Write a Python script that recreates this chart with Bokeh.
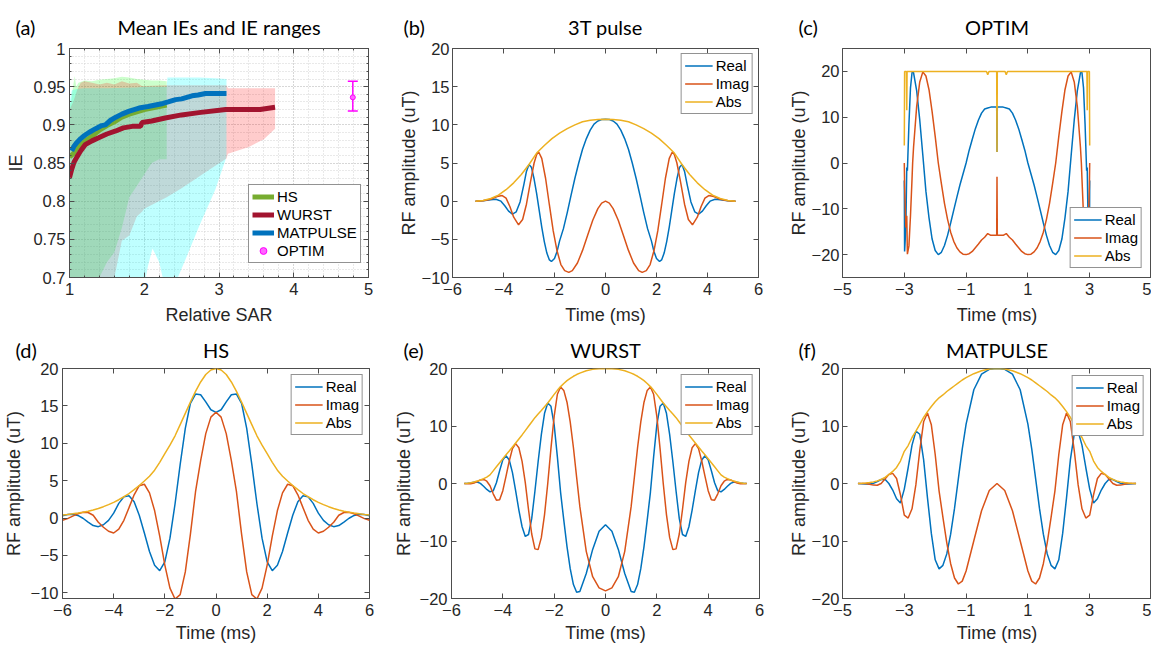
from bokeh.plotting import figure
from bokeh.models import (Range1d, FixedTicker, Legend, LegendItem, Whisker, Title, LinearAxis,
                          TeeHead, ColumnDataSource, CustomJSTickFormatter)
from bokeh.layouts import column, row
from bokeh.embed import file_html
from bokeh.resources import INLINE

# ---------------- (a) Mean IEs and IE ranges ----------------
HS_SAR = [1.0, 1.05, 1.1, 1.2, 1.3, 1.4, 1.5, 1.6, 1.7, 1.8, 1.9, 2.0, 2.1, 2.2, 2.3]
HS_MEAN = [0.858, 0.862, 0.870, 0.878, 0.885, 0.893, 0.899, 0.904, 0.910, 0.914, 0.917, 0.920, 0.922, 0.924, 0.926]
WURST_SAR = [1.0, 1.03, 1.06, 1.1, 1.15, 1.21, 1.3, 1.39, 1.5, 1.62, 1.72, 1.84, 1.95, 1.97, 2.1, 2.28, 2.5, 2.73, 3.09, 3.3, 3.55, 3.75]
WURST_MEAN = [0.831, 0.842, 0.851, 0.858, 0.866, 0.874, 0.879, 0.883, 0.888, 0.892, 0.896, 0.898, 0.898, 0.903, 0.905, 0.909, 0.913, 0.916, 0.920, 0.920, 0.920, 0.923]
MAT_SAR = [1.03, 1.06, 1.1, 1.15, 1.2, 1.26, 1.35, 1.43, 1.48, 1.55, 1.62, 1.7, 1.8, 1.93, 2.05, 2.15, 2.25, 2.32, 2.42, 2.5, 2.64, 2.72, 2.82, 3.1]
MAT_MEAN = [0.866, 0.872, 0.877, 0.882, 0.886, 0.890, 0.895, 0.899, 0.900, 0.906, 0.910, 0.914, 0.918, 0.922, 0.924, 0.926, 0.928, 0.930, 0.933, 0.934, 0.938, 0.939, 0.941, 0.941]

HS_RANGE_SAR = [1.0, 1.02, 1.05, 1.07, 1.09, 1.12, 1.2, 1.3, 1.4, 1.5, 1.6, 1.7, 1.8, 1.9, 2.0, 2.1, 2.2, 2.3]
HS_HI = [0.925, 0.93, 0.952, 0.964, 0.95, 0.955, 0.958, 0.957, 0.959, 0.960, 0.961, 0.963, 0.962, 0.960, 0.959, 0.958, 0.958, 0.957]
HS_LO = [0.6, 0.6, 0.6, 0.6, 0.6, 0.6, 0.6, 0.6, 0.70, 0.72, 0.733, 0.765, 0.805, 0.82, 0.835, 0.85, 0.855, 0.855]
WURST_RANGE_SAR = [1.0, 1.05, 1.1, 1.15, 1.2, 1.3, 1.4, 1.5, 1.6, 1.7, 1.8, 1.9, 1.97, 2.0, 2.3, 2.5, 2.7, 2.9, 3.1, 3.12, 3.4, 3.6, 3.75]
WURST_HI = [0.92, 0.93, 0.945, 0.955, 0.957, 0.955, 0.953, 0.955, 0.953, 0.957, 0.954, 0.955, 0.951, 0.951, 0.952, 0.952, 0.952, 0.952, 0.952, 0.948, 0.948, 0.948, 0.948]
WURST_LO = [0.6, 0.6, 0.6, 0.6, 0.6, 0.6, 0.6, 0.6, 0.70, 0.748, 0.755, 0.78, 0.786, 0.79, 0.805, 0.817, 0.83, 0.843, 0.856, 0.862, 0.871, 0.881, 0.895]
MAT_RANGE_SAR = [1.0, 1.03, 1.05, 1.1, 1.2, 1.5, 1.9, 2.0, 2.05, 2.11, 2.2, 2.27, 2.3, 2.31, 2.45, 2.6, 2.73, 2.95, 3.1]
MAT_HI = [0.93, 0.945, 0.946, 0.947, 0.948, 0.948, 0.949, 0.95, 0.95, 0.95, 0.95, 0.95, 0.95, 0.962, 0.962, 0.962, 0.962, 0.961, 0.96]
MAT_LO = [0.6, 0.6, 0.6, 0.6, 0.6, 0.6, 0.6, 0.69, 0.715, 0.738, 0.72, 0.69, 0.6, 0.6, 0.70, 0.735, 0.766, 0.815, 0.858]

OPTIM_SAR = [4.79]
OPTIM_MEAN = [0.936]
OPTIM_LO = [0.918]
OPTIM_HI = [0.957]

A_XTICKS = [1, 2, 3, 4, 5]
A_YTICKS = [0.7, 0.75, 0.8, 0.85, 0.9, 0.95, 1.0]

# ---------------- (b) 3T pulse ----------------
B_RE_T = [-5.1, -4.8, -4.5, -4.3, -4.1, -3.95, -3.8, -3.65, -3.5, -3.35, -3.2, -3.1, -3.0, -2.9, -2.8, -2.7, -2.6, -2.5, -2.4, -2.3, -2.2, -2.12, -2.0, -1.9, -1.8, -1.65, -1.5, -1.35, -1.2, -1.05, -0.9, -0.75, -0.6, -0.45, -0.3, -0.15, 0.0,
          0.15, 0.3, 0.45, 0.6, 0.75, 0.9, 1.05, 1.2, 1.35, 1.5, 1.65, 1.8, 1.9, 2.0, 2.12, 2.2, 2.3, 2.4, 2.5, 2.6, 2.7, 2.8, 2.9, 3.0, 3.1, 3.2, 3.35, 3.5, 3.65, 3.8, 3.95, 4.1, 4.3, 4.5, 4.8, 5.1]
B_RE = [0, 0.05, 0.2, 0.25, 0.0, -0.6, -1.3, -1.7, -1.4, -0.1, 2.2, 3.9, 4.8, 4.4, 2.9, 1.0, -1.2, -3.4, -5.3, -6.8, -7.7, -7.9, -7.5, -6.6, -5.2, -3.6, -1.5, 0.8, 3.0, 5.0, 6.8, 8.2, 9.3, 10.1, 10.5, 10.7, 10.73,
        10.7, 10.5, 10.1, 9.3, 8.2, 6.8, 5.0, 3.0, 0.8, -1.5, -3.6, -5.2, -6.6, -7.5, -7.9, -7.7, -6.8, -5.3, -3.4, -1.2, 1.0, 2.9, 4.4, 4.8, 3.9, 2.2, -0.1, -1.4, -1.7, -1.3, -0.6, 0.0, 0.25, 0.2, 0.05, 0]
B_IM_T = [-5.1, -4.8, -4.5, -4.25, -4.05, -3.9, -3.75, -3.6, -3.41, -3.25, -3.1, -2.95, -2.8, -2.7, -2.62, -2.5, -2.35, -2.2, -2.05, -1.9, -1.75, -1.6, -1.44, -1.3, -1.1, -0.9, -0.7, -0.5, -0.3, -0.15, 0.0,
          0.15, 0.3, 0.5, 0.7, 0.9, 1.1, 1.3, 1.44, 1.6, 1.75, 1.9, 2.05, 2.2, 2.35, 2.5, 2.62, 2.7, 2.8, 2.95, 3.1, 3.25, 3.41, 3.6, 3.75, 3.9, 4.05, 4.25, 4.5, 4.8, 5.1]
B_IM = [0, 0.05, 0.25, 0.6, 0.74, 0.4, -0.7, -2.1, -3.1, -2.4, -0.4, 2.4, 5.0, 6.1, 6.44, 5.6, 3.0, -0.5, -3.9, -6.5, -8.3, -9.1, -9.33, -9.1, -8.1, -6.45, -4.46, -2.5, -0.98, -0.25, 0,
        -0.25, -0.98, -2.5, -4.46, -6.45, -8.1, -9.1, -9.33, -9.1, -8.3, -6.5, -3.9, -0.5, 3.0, 5.6, 6.44, 6.1, 5.0, 2.4, -0.4, -2.4, -3.1, -2.1, -0.7, 0.4, 0.74, 0.6, 0.25, 0.05, 0]
B_ABS_T = [-5.1, -4.8, -4.5, -4.2, -3.9, -3.6, -3.3, -3.0, -2.7, -2.4, -2.1, -1.8, -1.5, -1.2, -0.9, -0.6, -0.3, 0.0,
           0.3, 0.6, 0.9, 1.2, 1.5, 1.8, 2.1, 2.4, 2.7, 3.0, 3.3, 3.6, 3.9, 4.2, 4.5, 4.8, 5.1]
B_ABS = [0, 0.1, 0.35, 0.8, 1.5, 2.4, 3.5, 4.8, 6.3, 7.3, 8.2, 8.9, 9.5, 10.0, 10.4, 10.6, 10.7, 10.73,
         10.7, 10.6, 10.4, 10.0, 9.5, 8.9, 8.2, 7.3, 6.3, 4.8, 3.5, 2.4, 1.5, 0.8, 0.35, 0.1, 0]

# ---------------- (c) OPTIM ----------------
C_T = [-3.0, -2.99, -2.95, -2.92, -2.9, -2.85, -2.8, -2.75, -2.73, -2.7, -2.6, -2.5, -2.4, -2.3, -2.2, -2.1, -2.0, -1.9, -1.8, -1.7, -1.6, -1.5, -1.4, -1.3, -1.2, -1.1, -1.0, -0.9, -0.8, -0.7, -0.6, -0.5, -0.4, -0.3, -0.2, -0.1, -0.01, 0.0,
       0.01, 0.1, 0.2, 0.3, 0.4, 0.5, 0.6, 0.7, 0.8, 0.9, 1.0, 1.1, 1.2, 1.3, 1.4, 1.5, 1.6, 1.7, 1.8, 1.9, 2.0, 2.1, 2.2, 2.3, 2.4, 2.5, 2.6, 2.7, 2.73, 2.75, 2.8, 2.85, 2.9, 2.92, 2.95, 2.99, 3.0]
C_RE = [-3.8, -19.3, -14.1, -1.0, -1.7, 8.5, 16.4, 19.7, 20.0, 19.7, 15.8, 9.4, 1.7, -6.2, -12.0, -16.6, -19.1, -20.0, -19.5, -18.0, -15.8, -13.1, -10.3, -7.5, -4.8, -2.4, 0.0, 2.8, 5.2, 7.5, 9.4, 10.9, 11.8, 12.0, 12.2, 12.2, 12.2, 2.4,
        12.2, 12.2, 12.2, 12.0, 11.8, 10.9, 9.4, 7.5, 5.2, 2.8, 0.0, -2.4, -4.8, -7.5, -10.3, -13.1, -15.8, -18.0, -19.5, -20.0, -19.1, -16.6, -12.0, -6.2, 1.7, 9.4, 15.8, 19.7, 20.0, 19.7, 16.4, 8.5, -1.7, -1.0, -14.1, -19.3, -3.8]
C_IM = [0.0, -5.0, -14.1, -11.5, -19.9, -18.1, -11.5, -3.5, 0.0, 3.5, 12.3, 17.7, 19.9, 19.0, 16.0, 11.2, 5.8, 0.0, -4.5, -8.8, -12.3, -15.1, -17.1, -18.5, -19.4, -19.9, -20.0, -19.8, -19.3, -18.5, -17.7, -16.8, -16.2, -15.4, -15.8, -15.8, -15.8, -3.0,
        -15.8, -15.8, -15.8, -15.4, -16.2, -16.8, -17.7, -18.5, -19.3, -19.8, -20.0, -19.9, -19.4, -18.5, -17.1, -15.1, -12.3, -8.8, -4.5, 0.0, 5.8, 11.2, 16.0, 19.0, 19.9, 17.7, 12.3, 3.5, 0.0, -3.5, -11.5, -18.1, -19.9, -11.5, -14.1, -5.0, 0.0]
C_ABS_T = [-3.0, -2.99, -2.93, -2.92, -2.91, -0.34, -0.3, -0.26, -0.01, 0.0, 0.01, 0.26, 0.3, 0.34, 2.91, 2.92, 2.93, 2.99, 3.0]
C_ABS = [3.8, 20, 20, 11.5, 20, 20, 19.3, 20, 20, 2.4, 20, 20, 19.3, 20, 20, 11.5, 20, 20, 3.8]

# ---------------- (d) HS ----------------
D_T = [-6.0, -5.8, -5.6, -5.4, -5.2, -5.0, -4.8, -4.6, -4.4, -4.2, -4.0, -3.8, -3.6, -3.4, -3.2, -3.0, -2.8, -2.6, -2.4, -2.2, -2.0, -1.8, -1.6, -1.4, -1.2, -1.0, -0.8, -0.6, -0.4, -0.2, 0.0,
       0.2, 0.4, 0.6, 0.8, 1.0, 1.2, 1.4, 1.6, 1.8, 2.0, 2.2, 2.4, 2.6, 2.8, 3.0, 3.2, 3.4, 3.6, 3.8, 4.0, 4.2, 4.4, 4.6, 4.8, 5.0, 5.2, 5.4, 5.6, 5.8, 6.0]
D_RE = [0.30, 0.47, 0.50, 0.35, -0.03, -0.54, -1.01, -1.15, -0.89, -0.31, 0.65, 1.96, 2.83, 2.97, 2.18, 0.38, -2.01, -4.47, -6.32, -7.04, -5.87, -2.69, 1.91, 7.17, 12.00, 15.35, 16.58, 16.49, 15.53, 14.48, 14.14,
        14.48, 15.53, 16.49, 16.58, 15.35, 12.00, 7.17, 1.91, -2.69, -5.87, -7.04, -6.32, -4.47, -2.01, 0.38, 2.18, 2.97, 2.83, 1.96, 0.65, -0.31, -0.89, -1.15, -1.01, -0.54, -0.03, 0.35, 0.50, 0.47, 0.30]
D_IM = [-0.29, -0.08, 0.25, 0.56, 0.78, 0.74, 0.37, -0.56, -1.23, -1.77, -2.00, -1.47, -0.30, 1.39, 3.11, 4.33, 4.52, 3.37, 1.00, -2.43, -6.29, -9.37, -10.83, -10.24, -7.21, -2.16, 3.52, 7.69, 11.29, 13.50, 14.14,
        13.50, 11.29, 7.69, 3.52, -2.16, -7.21, -10.24, -10.83, -9.37, -6.29, -2.43, 1.00, 3.37, 4.52, 4.33, 3.11, 1.39, -0.30, -1.47, -2.00, -1.77, -1.23, -0.56, 0.37, 0.74, 0.78, 0.56, 0.25, -0.08, -0.29]
D_ABS = [0.42, 0.48, 0.56, 0.66, 0.78, 0.92, 1.08, 1.28, 1.52, 1.8, 2.1, 2.45, 2.85, 3.28, 3.8, 4.35, 4.95, 5.6, 6.4, 7.45, 8.6, 9.75, 11.0, 12.5, 14.0, 15.5, 16.95, 18.2, 19.2, 19.8, 20.0,
         19.8, 19.2, 18.2, 16.95, 15.5, 14.0, 12.5, 11.0, 9.75, 8.6, 7.45, 6.4, 5.6, 4.95, 4.35, 3.8, 3.28, 2.85, 2.45, 2.1, 1.8, 1.52, 1.28, 1.08, 0.92, 0.78, 0.66, 0.56, 0.48, 0.42]

# ---------------- (e) WURST ----------------
E_T = [-5.5, -5.375, -5.25, -5.125, -5.0, -4.875, -4.75, -4.625, -4.5, -4.375, -4.25, -4.125, -4.0, -3.875, -3.75, -3.625, -3.5, -3.375, -3.25, -3.125, -3.0, -2.875, -2.75, -2.625, -2.5, -2.375, -2.25, -2.125, -2.0, -1.875, -1.75, -1.625, -1.5, -1.375, -1.25, -1.125, -1.0, -0.75, -0.5, -0.25, 0.0,
       0.25, 0.5, 0.75, 1.0, 1.125, 1.25, 1.375, 1.5, 1.625, 1.75, 1.875, 2.0, 2.125, 2.25, 2.375, 2.5, 2.625, 2.75, 2.875, 3.0, 3.125, 3.25, 3.375, 3.5, 3.625, 3.75, 3.875, 4.0, 4.125, 4.25, 4.375, 4.5, 4.625, 4.75, 4.875, 5.0, 5.125, 5.25, 5.375, 5.5]
E_RE = [0, 0.03, 0.11, 0.24, 0.26, 0.02, -0.47, -1.03, -1.45, -1.28, 0.14, 2.22, 4.11, 4.83, 4.08, 1.89, -1.28, -4.62, -7.52, -9.20, -8.87, -6.12, -1.35, 3.78, 8.51, 12.21, 14.0, 13.42, 10.19, 4.63, -1.53, -6.38, -10.97, -14.82, -17.57, -18.92, -18.78, -15.65, -11.46, -8.31, -7.17,
        -8.31, -11.46, -15.65, -18.78, -18.92, -17.57, -14.82, -10.97, -6.38, -1.53, 4.63, 10.19, 13.42, 14.0, 12.21, 8.51, 3.78, -1.35, -6.12, -8.87, -9.20, -7.52, -4.62, -1.28, 1.89, 4.08, 4.83, 4.11, 2.22, 0.14, -1.28, -1.45, -1.03, -0.47, 0.02, 0.26, 0.24, 0.11, 0.03, 0]
E_IM = [0, -0.04, -0.04, 0.07, 0.33, 0.62, 0.71, 0.40, -0.40, -1.79, -2.90, -2.84, -1.25, 1.29, 3.91, 6.06, 6.93, 6.22, 3.86, 0.16, -4.52, -8.78, -11.37, -11.50, -9.42, -5.41, 0, 6.12, 11.68, 15.52, 16.78, 16.19, 14.14, 10.73, 6.26, 1.09, -3.99, -11.80, -16.21, -18.16, -18.67,
        -18.16, -16.21, -11.80, -3.99, 1.09, 6.26, 10.73, 14.14, 16.19, 16.78, 15.52, 11.68, 6.12, 0, -5.41, -9.42, -11.50, -11.37, -8.78, -4.52, 0.16, 3.86, 6.22, 6.93, 6.06, 3.91, 1.29, -1.25, -2.84, -2.90, -1.79, -0.40, 0.40, 0.71, 0.62, 0.33, 0.07, -0.04, -0.04, 0]
E_ABS = [0, 0.05, 0.12, 0.25, 0.42, 0.62, 0.85, 1.1, 1.5, 2.2, 2.9, 3.6, 4.3, 5.0, 5.65, 6.35, 7.05, 7.75, 8.45, 9.2, 9.95, 10.7, 11.45, 12.1, 12.7, 13.35, 14.0, 14.75, 15.5, 16.2, 16.85, 17.4, 17.9, 18.3, 18.65, 18.95, 19.2, 19.6, 19.85, 19.97, 20.0,
         19.97, 19.85, 19.6, 19.2, 18.95, 18.65, 18.3, 17.9, 17.4, 16.85, 16.2, 15.5, 14.75, 14.0, 13.35, 12.7, 12.1, 11.45, 10.7, 9.95, 9.2, 8.45, 7.75, 7.05, 6.35, 5.65, 5.0, 4.3, 3.6, 2.9, 2.2, 1.5, 1.1, 0.85, 0.62, 0.42, 0.25, 0.12, 0.05, 0]

# ---------------- (f) MATPULSE ----------------
F_T = [-4.5, -4.375, -4.25, -4.125, -4.0, -3.875, -3.75, -3.625, -3.5, -3.375, -3.25, -3.125, -3.0, -2.875, -2.75, -2.625, -2.5, -2.375, -2.25, -2.125, -2.0, -1.875, -1.75, -1.625, -1.5, -1.375, -1.25, -1.125, -1.0, -0.75, -0.5, -0.25, 0.0,
       0.25, 0.5, 0.75, 1.0, 1.125, 1.25, 1.375, 1.5, 1.625, 1.75, 1.875, 2.0, 2.125, 2.25, 2.375, 2.5, 2.625, 2.75, 2.875, 3.0, 3.125, 3.25, 3.375, 3.5, 3.625, 3.75, 3.875, 4.0, 4.125, 4.25, 4.375, 4.5]
F_RE = [0, -0.03, -0.08, -0.10, 0.01, 0.33, 0.7, 0.72, 0, -1.14, -2.66, -3.38, -0.97, 2.74, 6.68, 9.10, 8.57, 4.14, -2.49, -8.68, -13.27, -14.84, -14.23, -12.24, -8.82, -4.34, 0.85, 5.98, 10.34, 16.30, 19.02, 19.86, 20.0,
        19.86, 19.02, 16.30, 10.34, 5.98, 0.85, -4.34, -8.82, -12.24, -14.23, -14.84, -13.27, -8.68, -2.49, 4.14, 8.57, 9.10, 6.68, 2.74, -0.97, -3.38, -2.66, -1.14, 0, 0.72, 0.7, 0.33, 0.01, -0.10, -0.08, -0.03, 0]
F_IM = [0, 0.01, -0.01, -0.12, -0.28, -0.31, 0, 0.77, 1.55, 1.76, 0.87, -1.95, -5.51, -6.01, -4.40, -0.21, 5.71, 10.73, 12.25, 10.20, 5.04, -1.27, -5.89, -10.31, -13.95, -16.44, -17.48, -16.98, -15.22, -9.95, -4.74, -1.21, 0,
        -1.21, -4.74, -9.95, -15.22, -16.98, -17.48, -16.44, -13.95, -10.31, -5.89, -1.27, 5.04, 10.20, 12.25, 10.73, 5.71, -0.21, -4.40, -6.01, -5.51, -1.95, 0.87, 1.76, 1.55, 0.77, 0, -0.31, -0.28, -0.12, -0.01, 0.01, 0]
F_ABS = [0, 0.03, 0.08, 0.16, 0.28, 0.45, 0.7, 1.05, 1.55, 2.1, 2.8, 3.9, 5.6, 6.6, 8.0, 9.1, 10.3, 11.5, 12.5, 13.4, 14.2, 14.9, 15.4, 16.0, 16.5, 17.0, 17.5, 18.0, 18.4, 19.1, 19.6, 19.9, 20.0,
         19.9, 19.6, 19.1, 18.4, 18.0, 17.5, 17.0, 16.5, 16.0, 15.4, 14.9, 14.2, 13.4, 12.5, 11.5, 10.3, 9.1, 8.0, 6.6, 5.6, 3.9, 2.8, 2.1, 1.55, 1.05, 0.7, 0.45, 0.28, 0.16, 0.08, 0.03, 0]

# ---------------- styling ----------------
TICK_FONT = "Liberation Sans"
TITLE_FONT = "Lato"
AX_COL = "#4d4d4d"
TXT_COL = "#262626"
COL_RE, COL_IM, COL_ABS = "#0072BD", "#D95319", "#EDB120"
TOP_H, BOT_H = 328, 318
TITLE_H = 24


def mirror_axis(ticks, minor=None):
    return LinearAxis(ticker=FixedTicker(ticks=ticks, minor_ticks=minor or []),
                      formatter=CustomJSTickFormatter(code="return '';"),
                      major_label_text_font_size="0px",
                      major_label_standoff=0, major_tick_in=5, major_tick_out=0,
                      major_tick_line_color=AX_COL, axis_line_color=None,
                      minor_tick_in=2, minor_tick_out=0,
                      minor_tick_line_color=AX_COL if minor else None)


def make_fig(w, h, bl, br, bt, bb, xr, yr, xticks, yticks, title, letter, letter_off,
             title_standoff, x_std, x_lab_std, y_std, y_lab_std, xlabel, ylabel,
             right_ticks=True, minor_x=None, minor_y=None):
    p = figure(width=w, height=h, x_range=Range1d(*xr), y_range=Range1d(*yr),
               output_backend="svg", toolbar_location=None,
               min_border_left=bl, min_border_right=br, min_border_top=bt, min_border_bottom=bb)
    p.outline_line_color = AX_COL
    p.outline_line_width = 1
    p.outline_line_alpha = 1
    p.background_fill_color = "white"
    p.border_fill_color = "white"
    p.xgrid.grid_line_color = None
    p.ygrid.grid_line_color = None
    xax = p.below[0]
    yax = p.left[0]
    xax.ticker = FixedTicker(ticks=xticks, minor_ticks=minor_x or [])
    yax.ticker = FixedTicker(ticks=yticks, minor_ticks=minor_y or [])
    for ax in (xax, yax):
        ax.axis_line_color = AX_COL
        ax.major_tick_line_color = AX_COL
        ax.major_tick_in = 5
        ax.major_tick_out = 0
        ax.minor_tick_line_color = AX_COL if (minor_x or minor_y) else None
        ax.minor_tick_in = 2
        ax.minor_tick_out = 0
        ax.major_label_text_font = TICK_FONT
        ax.major_label_text_font_size = "16.5px"
        ax.major_label_text_color = TXT_COL
        ax.axis_label_text_font = TICK_FONT
        ax.axis_label_text_font_size = "18px"
        ax.axis_label_text_font_style = "normal"
        ax.axis_label_text_color = TXT_COL
    xax.axis_label = xlabel
    yax.axis_label = ylabel
    xax.major_label_standoff = x_std
    xax.axis_label_standoff = x_lab_std
    yax.major_label_standoff = y_std
    yax.axis_label_standoff = y_lab_std
    # box ticks on top and right
    p.add_layout(mirror_axis(xticks, minor_x), "above")
    if right_ticks:
        p.add_layout(mirror_axis(yticks, minor_y), "right")
    # main title (inner) and panel letter (outer, drawn on the same baseline)
    p.add_layout(Title(text=title, align="center", standoff=title_standoff,
                       text_font=TITLE_FONT, text_font_size="20px", text_font_style="normal",
                       text_color="black"), "above")
    p.add_layout(Title(text=letter, align="left", offset=letter_off,
                       standoff=-(4 + 2 * TITLE_H + title_standoff),
                       text_font=TITLE_FONT, text_font_size="20px", text_font_style="normal",
                       text_color="black"), "above")
    return p


def style_legend(lg, glyph_w=28):
    lg.label_text_font = TICK_FONT
    lg.label_text_font_size = "15px"
    lg.label_text_color = "black"
    lg.glyph_width = glyph_w
    lg.glyph_height = 17
    lg.label_height = 17
    lg.label_standoff = 3
    lg.spacing = 1
    lg.padding = 3
    lg.border_line_color = TXT_COL
    lg.border_line_width = 1
    lg.background_fill_color = "white"
    lg.background_fill_alpha = 1


def pulse_panel(w, h, bl, br, bt, bb, xr, yr, xticks, yticks, title, letter, letter_off,
                title_standoff, x_std, x_lab_std, y_std, y_lab_std, right_ticks,
                t_re, re, t_im, im, t_abs, ab, loc, margin):
    p = make_fig(w, h, bl, br, bt, bb, xr, yr, xticks, yticks, title, letter, letter_off,
                 title_standoff, x_std, x_lab_std, y_std, y_lab_std,
                 "Time (ms)", "RF amplitude (uT)", right_ticks=right_ticks)
    r1 = p.line(t_re, re, line_color=COL_RE, line_width=1.5)
    r2 = p.line(t_im, im, line_color=COL_IM, line_width=1.5)
    r3 = p.line(t_abs, ab, line_color=COL_ABS, line_width=1.5)
    lg = Legend(items=[LegendItem(label="Real", renderers=[r1]),
                       LegendItem(label="Imag", renderers=[r2]),
                       LegendItem(label="Abs", renderers=[r3])],
                location=loc, margin=margin)
    style_legend(lg)
    p.add_layout(lg)
    return p


# ---- panel (a)
A_MINOR_X = [round(1 + 0.2 * i, 1) for i in range(21)]
A_MINOR_Y = [round(0.7 + 0.01 * i, 2) for i in range(31)]
pa = make_fig(395, TOP_H, 69, 27, 48, 51, (1, 5), (0.7, 1.0), A_XTICKS, A_YTICKS,
              "Mean IEs and IE ranges", "(a)", -54, 20, 5, 7, 4, 4, "Relative SAR", "IE",
              minor_x=A_MINOR_X, minor_y=A_MINOR_Y)
pa.left[0].formatter = CustomJSTickFormatter(code="return String(Math.round(tick*100)/100);")
for g in (pa.xgrid[0], pa.ygrid[0]):
    g.grid_line_color = "#c4c4c4"
    g.grid_line_dash = "1 2"
    g.minor_grid_line_color = "#d2d2d2"
    g.minor_grid_line_dash = "1 2"

pa.varea(x=HS_RANGE_SAR, y1=HS_LO, y2=HS_HI, fill_color="#00ff00", fill_alpha=0.2)
pa.varea(x=WURST_RANGE_SAR, y1=WURST_LO, y2=WURST_HI, fill_color="#ff0000", fill_alpha=0.2)
pa.varea(x=MAT_RANGE_SAR, y1=MAT_LO, y2=MAT_HI, fill_color="#00ffff", fill_alpha=0.25)
ra1 = pa.line(HS_SAR, HS_MEAN, line_color="#77AC30", line_width=5)
ra2 = pa.line(WURST_SAR, WURST_MEAN, line_color="#A2142F", line_width=5)
ra3 = pa.line(MAT_SAR, MAT_MEAN, line_color="#0072BD", line_width=5)
osrc = ColumnDataSource(dict(x=OPTIM_SAR, y=OPTIM_MEAN, lo=OPTIM_LO, hi=OPTIM_HI))
pa.add_layout(Whisker(source=osrc, base="x", lower="lo", upper="hi", dimension="height",
                      line_color="#FF00FF", line_width=1.5,
                      upper_head=TeeHead(size=10, line_color="#FF00FF", line_width=1.5),
                      lower_head=TeeHead(size=10, line_color="#FF00FF", line_width=1.5)))
ra4 = pa.scatter("x", "y", source=osrc, marker="circle", size=5,
                 line_color="#FF00FF", fill_color="#FF66FF")
lga = Legend(items=[LegendItem(label="HS", renderers=[ra1]),
                    LegendItem(label="WURST", renderers=[ra2]),
                    LegendItem(label="MATPULSE", renderers=[ra3]),
                    LegendItem(label="OPTIM", renderers=[ra4])],
             location=(179, 14))
style_legend(lga, glyph_w=22)
pa.add_layout(lga)

# ---- panels (b)-(f)
pb = pulse_panel(390, TOP_H, 57, 27, 48, 51, (-6, 6), (-10, 20), [-6, -4, -2, 0, 2, 4, 6],
                 [-10, -5, 0, 5, 10, 15, 20], "3T pulse", "(b)", -49, 20, 5, 7, 3, 0, True,
                 B_RE_T, B_RE, B_IM_T, B_IM, B_ABS_T, B_ABS, "top_right", 5)
pc = pulse_panel(366, TOP_H, 56, 0, 48, 51, (-5, 5), (-25, 25), [-5, -3, -1, 1, 3, 5],
                 [-20, -10, 0, 10, 20], "OPTIM", "(c)", -44, 20, 5, 7, 3, 0, False,
                 C_T, C_RE, C_T, C_IM, C_ABS_T, C_ABS, "bottom_right", 9)
pd = pulse_panel(390, BOT_H, 62, 21, 40, 48, (-6, 6), (-10.76, 20), [-6, -4, -2, 0, 2, 4, 6],
                 [-10, -5, 0, 5, 10, 15, 20], "HS", "(d)", -47, 14, 5, 4, 4, 4, True,
                 D_T, D_RE, D_T, D_IM, D_T, D_ABS, "top_right", 6)
pe = pulse_panel(395, BOT_H, 61, 26, 40, 48, (-6, 6), (-20, 20), [-6, -4, -2, 0, 2, 4, 6],
                 [-20, -10, 0, 10, 20], "WURST", "(e)", -48, 14, 5, 4, 4, 3, True,
                 E_T, E_RE, E_T, E_IM, E_T, E_ABS, "top_right", 6)
pf = pulse_panel(366, BOT_H, 56, 0, 40, 48, (-5, 5), (-20, 20), [-5, -3, -1, 1, 3, 5],
                 [-20, -10, 0, 10, 20], "MATPULSE", "(f)", -44, 14, 5, 4, 3, 0, False,
                 F_T, F_RE, F_T, F_IM, F_T, F_ABS, "top_right", 7)

layout = column(row(pa, pb, pc), row(pd, pe, pf))
open("out.html", "w").write(file_html(layout, INLINE, title="RF pulses"))
